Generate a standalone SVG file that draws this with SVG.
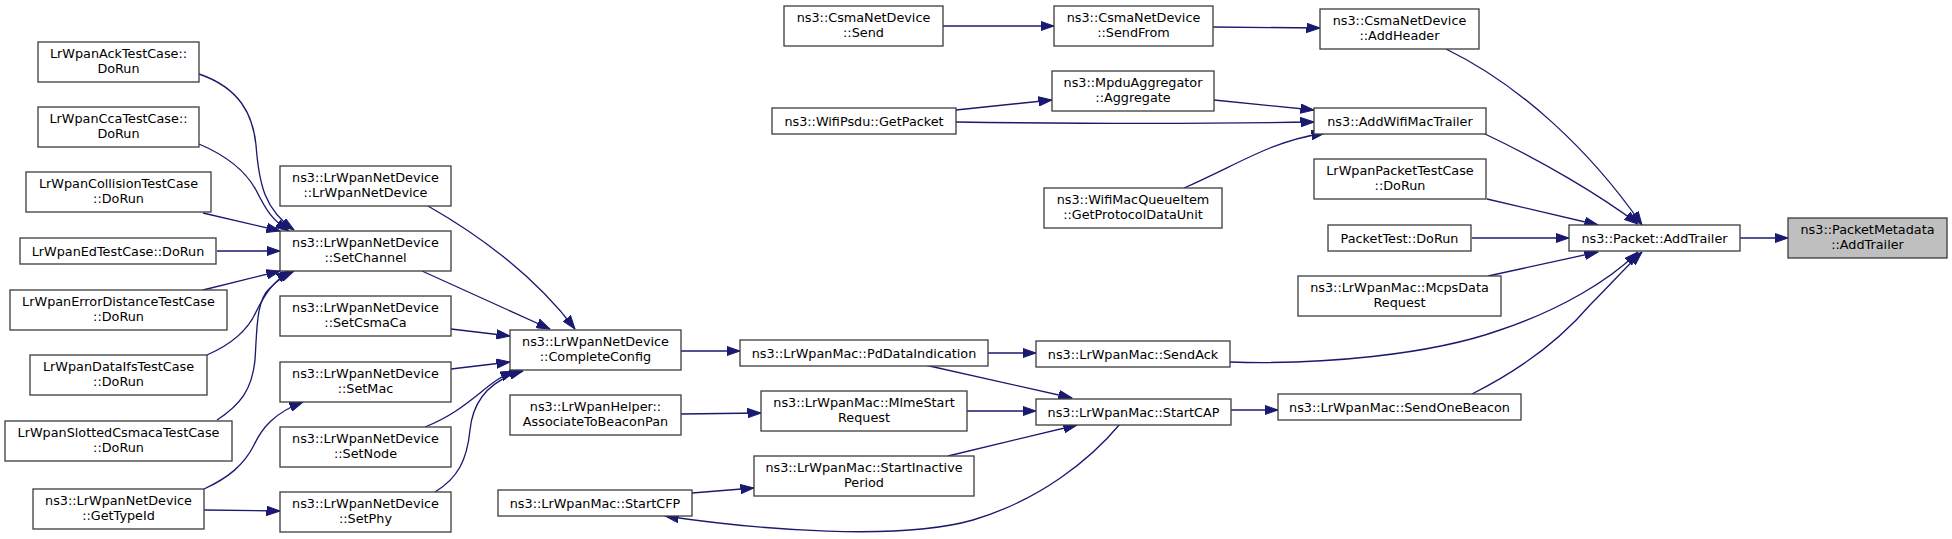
<svg xmlns="http://www.w3.org/2000/svg" width="1952" height="539" viewBox="0 0 1952 539">
<style>
.n rect{fill:#ffffff;stroke:#404040;stroke-width:1.33}
.n.root rect{fill:#bfbfbf}
.n text{font-family:"DejaVu Sans",sans-serif;font-size:12.8px;fill:#000000;text-anchor:middle}
.e path{fill:none;stroke:#191970;stroke-width:1.33;marker-end:url(#ah)}
</style>
<defs>
<marker id="ah" viewBox="0 0 14 10" refX="13.5" refY="5" markerWidth="14" markerHeight="10" markerUnits="userSpaceOnUse" orient="auto">
<path d="M0,0.3 L13.5,5 L0,9.7 Z" fill="#191970" stroke="#191970" stroke-width="1"/>
</marker>
</defs>
<rect x="0" y="0" width="1952" height="539" fill="#ffffff"/>
<g id="edges" class="e">
<path d="M199,74 C240,88 253,115 256,145 C259,185 265,210 294,230"/>
<path d="M199,144 C225,155 245,170 256,190 C266,210 272,220 289,231"/>
<path d="M203,213 L280,231"/>
<path d="M217,251 L280,251"/>
<path d="M203,290 L280,271"/>
<path d="M207,355 C230,345 248,330 256,312 C264,296 272,282 290,271"/>
<path d="M217,420 C240,405 252,390 255,360 C257,330 256,300 270,288 C278,280 285,275 294,271"/>
<path d="M204,489 C228,478 244,465 254,445 C262,428 274,413 303,402"/>
<path d="M204,510 L280,511"/>
<path d="M428,206 C470,230 530,270 575,329"/>
<path d="M422,271 L550,329"/>
<path d="M451,329 L510,336"/>
<path d="M451,369 L510,362"/>
<path d="M425,427 C450,417 465,405 480,393 C492,383 500,377 514,371"/>
<path d="M435,492 C458,478 467,460 470,430 C473,400 490,380 523,371"/>
<path d="M681,351 L740,351"/>
<path d="M681,414 L761,413"/>
<path d="M692,493 L754,488"/>
<path d="M988,353 L1036,353"/>
<path d="M925,365 L1072,398"/>
<path d="M967,411 L1036,411"/>
<path d="M948,456 L1077,425"/>
<path d="M1120,424 C1090,460 1040,500 973,520 C899,541 760,530 665,516"/>
<path d="M1231,410 L1278,410"/>
<path d="M1230,362 C1320,365 1430,355 1500,330 C1560,310 1610,280 1638,252"/>
<path d="M1472,394 C1520,370 1560,340 1590,305 C1610,285 1625,268 1642,252"/>
<path d="M1488,276 L1598,252"/>
<path d="M1472,238 L1569,238"/>
<path d="M1487,199 L1598,225"/>
<path d="M1485,134 C1540,160 1600,195 1638,224"/>
<path d="M1446,49 C1520,85 1590,150 1642,225"/>
<path d="M943,26 L1054,26"/>
<path d="M1213,27 L1320,28"/>
<path d="M956,110 L1052,100"/>
<path d="M956,122 C1100,124 1200,124 1314,122"/>
<path d="M1214,100 L1314,110"/>
<path d="M1184,188 C1220,172 1245,158 1270,148 C1290,140 1305,136 1325,133"/>
<path d="M1740,238 L1788,238"/>
</g>
<g id="n1" class="n"><rect x="38" y="42" width="161" height="40"/><text x="118.5" y="58">LrWpanAckTestCase::</text><text x="118.5" y="72.5">DoRun</text></g>
<g id="n2" class="n"><rect x="38" y="107" width="161" height="40"/><text x="118.5" y="123">LrWpanCcaTestCase::</text><text x="118.5" y="137.5">DoRun</text></g>
<g id="n3" class="n"><rect x="26" y="172" width="185" height="40"/><text x="118.5" y="188">LrWpanCollisionTestCase</text><text x="118.5" y="202.5">::DoRun</text></g>
<g id="n4" class="n"><rect x="20" y="238" width="196" height="26"/><text x="118" y="255.5">LrWpanEdTestCase::DoRun</text></g>
<g id="n5" class="n"><rect x="10" y="290" width="217" height="40"/><text x="118.5" y="306">LrWpanErrorDistanceTestCase</text><text x="118.5" y="320.5">::DoRun</text></g>
<g id="n6" class="n"><rect x="30" y="355" width="177" height="40"/><text x="118.5" y="371">LrWpanDataIfsTestCase</text><text x="118.5" y="385.5">::DoRun</text></g>
<g id="n7" class="n"><rect x="5" y="421" width="227" height="40"/><text x="118.5" y="437">LrWpanSlottedCsmacaTestCase</text><text x="118.5" y="451.5">::DoRun</text></g>
<g id="n8" class="n"><rect x="33" y="489" width="171" height="40"/><text x="118.5" y="505">ns3::LrWpanNetDevice</text><text x="118.5" y="519.5">::GetTypeId</text></g>
<g id="n9" class="n"><rect x="280" y="166" width="171" height="40"/><text x="365.5" y="182">ns3::LrWpanNetDevice</text><text x="365.5" y="196.5">::LrWpanNetDevice</text></g>
<g id="n10" class="n"><rect x="280" y="231" width="171" height="40"/><text x="365.5" y="247">ns3::LrWpanNetDevice</text><text x="365.5" y="261.5">::SetChannel</text></g>
<g id="n11" class="n"><rect x="280" y="296" width="171" height="40"/><text x="365.5" y="312">ns3::LrWpanNetDevice</text><text x="365.5" y="326.5">::SetCsmaCa</text></g>
<g id="n12" class="n"><rect x="280" y="362" width="171" height="40"/><text x="365.5" y="378">ns3::LrWpanNetDevice</text><text x="365.5" y="392.5">::SetMac</text></g>
<g id="n13" class="n"><rect x="280" y="427" width="171" height="40"/><text x="365.5" y="443">ns3::LrWpanNetDevice</text><text x="365.5" y="457.5">::SetNode</text></g>
<g id="n14" class="n"><rect x="280" y="492" width="171" height="40"/><text x="365.5" y="508">ns3::LrWpanNetDevice</text><text x="365.5" y="522.5">::SetPhy</text></g>
<g id="n15" class="n"><rect x="510" y="330" width="171" height="40"/><text x="595.5" y="346">ns3::LrWpanNetDevice</text><text x="595.5" y="360.5">::CompleteConfig</text></g>
<g id="n16" class="n"><rect x="510" y="395" width="171" height="40"/><text x="595.5" y="411">ns3::LrWpanHelper::</text><text x="595.5" y="425.5">AssociateToBeaconPan</text></g>
<g id="n17" class="n"><rect x="498" y="490" width="194" height="26"/><text x="595" y="507.5">ns3::LrWpanMac::StartCFP</text></g>
<g id="n18" class="n"><rect x="740" y="340" width="248" height="26"/><text x="864" y="357.5">ns3::LrWpanMac::PdDataIndication</text></g>
<g id="n19" class="n"><rect x="761" y="391" width="206" height="40"/><text x="864" y="407">ns3::LrWpanMac::MlmeStart</text><text x="864" y="421.5">Request</text></g>
<g id="n20" class="n"><rect x="754" y="456" width="220" height="40"/><text x="864" y="472">ns3::LrWpanMac::StartInactive</text><text x="864" y="486.5">Period</text></g>
<g id="n21" class="n"><rect x="784" y="6" width="159" height="40"/><text x="863.5" y="22">ns3::CsmaNetDevice</text><text x="863.5" y="36.5">::Send</text></g>
<g id="n22" class="n"><rect x="772" y="108" width="184" height="26"/><text x="864" y="125.5">ns3::WifiPsdu::GetPacket</text></g>
<g id="n23" class="n"><rect x="1054" y="6" width="159" height="40"/><text x="1133.5" y="22">ns3::CsmaNetDevice</text><text x="1133.5" y="36.5">::SendFrom</text></g>
<g id="n24" class="n"><rect x="1052" y="71" width="162" height="40"/><text x="1133" y="87">ns3::MpduAggregator</text><text x="1133" y="101.5">::Aggregate</text></g>
<g id="n25" class="n"><rect x="1044" y="188" width="178" height="40"/><text x="1133" y="204">ns3::WifiMacQueueItem</text><text x="1133" y="218.5">::GetProtocolDataUnit</text></g>
<g id="n26" class="n"><rect x="1036" y="341" width="194" height="26"/><text x="1133" y="358.5">ns3::LrWpanMac::SendAck</text></g>
<g id="n27" class="n"><rect x="1036" y="399" width="195" height="26"/><text x="1133.5" y="416.5">ns3::LrWpanMac::StartCAP</text></g>
<g id="n28" class="n"><rect x="1320" y="9" width="159" height="40"/><text x="1399.5" y="25">ns3::CsmaNetDevice</text><text x="1399.5" y="39.5">::AddHeader</text></g>
<g id="n29" class="n"><rect x="1314" y="108" width="172" height="26"/><text x="1400" y="125.5">ns3::AddWifiMacTrailer</text></g>
<g id="n30" class="n"><rect x="1314" y="159" width="172" height="40"/><text x="1400" y="175">LrWpanPacketTestCase</text><text x="1400" y="189.5">::DoRun</text></g>
<g id="n31" class="n"><rect x="1328" y="225" width="143" height="26"/><text x="1399.5" y="242.5">PacketTest::DoRun</text></g>
<g id="n32" class="n"><rect x="1298" y="276" width="203" height="40"/><text x="1399.5" y="292">ns3::LrWpanMac::McpsData</text><text x="1399.5" y="306.5">Request</text></g>
<g id="n33" class="n"><rect x="1278" y="394" width="243" height="26"/><text x="1399.5" y="411.5">ns3::LrWpanMac::SendOneBeacon</text></g>
<g id="n34" class="n"><rect x="1569" y="225" width="171" height="26"/><text x="1654.5" y="242.5">ns3::Packet::AddTrailer</text></g>
<g id="n35" class="n root"><rect x="1788" y="218" width="159" height="40"/><text x="1867.5" y="234">ns3::PacketMetadata</text><text x="1867.5" y="248.5">::AddTrailer</text></g>
</svg>
